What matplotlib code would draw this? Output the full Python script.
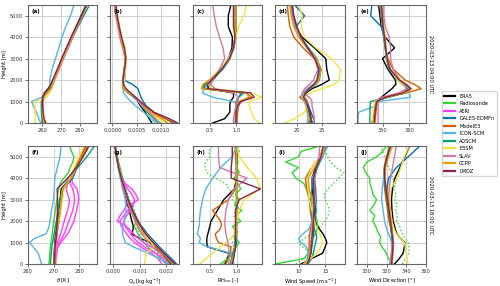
import matplotlib.pyplot as plt
from matplotlib.lines import Line2D
from matplotlib.ticker import FormatStrFormatter

# height levels (m)
Z = [0, 200, 500, 800, 1000, 1200, 1400, 1600, 1800, 2000, 2500, 3000, 3500, 4000, 4500, 5000, 5500]
Z_SONDE = [0, 250, 500, 750, 1000, 1250, 1500, 1750, 2000, 2250, 2500, 2750,
           3000, 3250, 3500, 3750, 4000, 4250, 4500, 4750, 5000, 5250, 5500]
Z_AERI = [0, 250, 500, 750, 1000, 1250, 1500, 1750, 2000, 2250, 2500, 2750,
          3000, 3250, 3500, 3750, 4000]

labels = ['ERA5', 'Radiosonde', 'AERI', 'DALES-EDMFn', 'ModelE3', 'ICON-SCM',
          'AOSCM', 'E3SM', 'SLAV', 'CCPP', 'LMDZ']
colors = ['black', '#33d633', '#ff3cff', '#0072b2', '#d55e00', '#56b4e9',
          '#009e73', '#f0e442', '#cc79a7', '#e69f00', '#882255']
models = ['ERA5', 'DALES-EDMFn', 'ModelE3', 'ICON-SCM', 'AOSCM', 'E3SM', 'SLAV', 'CCPP', 'LMDZ']

# ---- 2020-03-13 04:00 UTC ----
theta_04 = {
    'ERA5':        [260.5, 260.2, 260.0, 259.8, 259.8, 260.5, 262.0, 264.0, 265.0, 266.0, 268.3, 270.6, 273.0, 275.5, 278.0, 280.6, 283.2],
    'DALES-EDMFn': [261.0, 260.5, 260.2, 260.0, 260.0, 260.3, 261.5, 263.5, 264.8, 265.8, 268.2, 270.5, 273.0, 275.5, 278.2, 280.8, 283.5],
    'ModelE3':     [261.5, 260.6, 260.3, 260.1, 260.2, 260.4, 261.0, 263.0, 264.5, 265.6, 268.0, 270.4, 273.0, 275.6, 278.3, 281.0, 283.8],
    'ICON-SCM':    [259.2, 258.2, 257.0, 255.3, 254.4, 259.8, 262.5, 264.6, 264.0, 264.0, 265.2, 267.0, 268.8, 270.5, 272.5, 275.0, 276.8],
    'AOSCM':       [260.0, 259.8, 259.6, 259.5, 259.6, 260.0, 261.8, 264.0, 265.2, 266.2, 268.6, 271.0, 273.6, 276.2, 279.0, 282.0, 285.0],
    'E3SM':        [256.2, 256.2, 256.2, 256.2, 256.3, 262.5, 263.8, 265.0, 265.6, 266.3, 268.5, 270.8, 273.3, 275.8, 278.4, 281.0, 283.6],
    'SLAV':        [261.0, 260.8, 260.6, 260.5, 260.6, 261.0, 262.5, 264.5, 265.6, 266.6, 269.0, 271.3, 273.8, 276.2, 278.6, 281.2, 283.5],
    'CCPP':        [260.8, 260.4, 260.2, 260.0, 260.1, 260.8, 262.8, 264.8, 265.6, 266.3, 268.6, 270.8, 273.2, 275.8, 278.4, 281.0, 283.7],
    'LMDZ':        [262.0, 261.0, 260.5, 260.2, 260.1, 260.3, 261.2, 263.2, 264.5, 265.5, 268.0, 270.3, 272.8, 275.3, 278.0, 280.8, 283.4],
}
# specific humidity in 1e-4 kg/kg
qv_04 = {
    'ERA5':        [8.2, 7.6, 6.8, 5.8, 5.3, 4.6, 3.6, 2.4, 2.3, 2.3, 2.6, 2.8, 2.4, 1.8, 1.3, 0.9, 0.6],
    'DALES-EDMFn': [12.5, 11.0, 8.6, 7.0, 6.4, 5.9, 5.6, 5.3, 4.2, 2.4, 2.5, 2.7, 2.4, 1.8, 1.3, 0.9, 0.6],
    'ModelE3':     [13.0, 11.0, 8.0, 6.5, 5.6, 4.6, 3.4, 2.6, 2.2, 2.1, 2.4, 2.7, 2.3, 1.7, 1.2, 0.8, 0.5],
    'ICON-SCM':    [9.0, 8.0, 6.5, 4.8, 3.8, 3.0, 2.3, 2.2, 2.4, 2.6, 2.7, 2.8, 2.5, 1.9, 1.4, 1.0, 0.7],
    'AOSCM':       [9.5, 8.6, 7.2, 6.0, 5.4, 4.4, 3.2, 2.3, 2.1, 2.2, 2.5, 2.7, 2.3, 1.8, 1.3, 0.9, 0.6],
    'E3SM':        [11.0, 9.6, 7.5, 6.2, 5.6, 4.8, 3.6, 2.6, 2.4, 2.5, 2.7, 2.9, 2.6, 2.0, 1.5, 1.1, 0.8],
    'SLAV':        [10.0, 9.0, 7.6, 6.2, 5.4, 4.6, 3.4, 2.4, 2.2, 2.3, 2.5, 2.6, 2.1, 1.5, 1.1, 0.7, 0.4],
    'CCPP':        [11.5, 10.2, 8.0, 6.6, 5.8, 4.8, 3.4, 2.3, 2.1, 2.2, 2.5, 2.7, 2.3, 1.8, 1.3, 0.9, 0.6],
    'LMDZ':        [13.5, 11.8, 8.6, 6.8, 5.8, 4.8, 3.8, 2.8, 2.3, 2.2, 2.5, 2.8, 2.5, 1.9, 1.4, 1.0, 0.7],
}
rh_04 = {
    'ERA5':        [0.55, 0.78, 0.88, 0.88, 0.89, 0.95, 0.95, 0.45, 0.50, 0.55, 0.72, 0.85, 0.92, 0.93, 0.85, 0.85, 0.90],
    'DALES-EDMFn': [1.00, 1.00, 1.00, 1.00, 1.02, 1.05, 1.10, 0.40, 0.42, 0.52, 0.74, 0.88, 0.95, 0.98, 1.00, 1.00, 1.00],
    'ModelE3':     [1.02, 1.02, 1.03, 1.05, 1.10, 1.30, 1.20, 0.35, 0.38, 0.50, 0.72, 0.86, 0.95, 0.98, 0.98, 0.98, 0.98],
    'ICON-SCM':    [0.98, 0.98, 1.00, 1.05, 0.95, 0.55, 0.35, 0.38, 0.45, 0.50, 0.70, 0.85, 0.95, 1.00, 1.00, 1.00, 1.00],
    'AOSCM':       [1.00, 1.00, 1.00, 1.00, 1.00, 1.05, 1.15, 0.38, 0.40, 0.52, 0.74, 0.88, 0.96, 1.00, 1.00, 1.00, 1.00],
    'E3SM':        [1.45, 1.35, 1.30, 1.25, 1.25, 1.50, 1.30, 0.55, 0.45, 0.50, 0.68, 0.85, 0.95, 1.00, 1.05, 1.15, 1.20],
    'SLAV':        [0.95, 0.95, 0.97, 1.00, 1.00, 1.05, 0.95, 0.60, 0.50, 0.55, 0.68, 0.78, 0.75, 0.68, 0.62, 0.58, 0.55],
    'CCPP':        [1.00, 1.00, 1.00, 1.02, 1.05, 1.25, 1.20, 0.33, 0.36, 0.48, 0.72, 0.88, 0.95, 0.98, 1.00, 1.00, 1.00],
    'LMDZ':        [1.00, 1.00, 1.00, 1.03, 1.08, 1.35, 1.28, 0.45, 0.45, 0.52, 0.72, 0.87, 0.95, 0.98, 0.95, 0.95, 0.95],
}
ws_04 = {
    'ERA5':        [22.5, 22.8, 22.6, 22.2, 22.0, 21.5, 21.8, 23.0, 25.0, 26.5, 26.0, 25.8, 23.5, 21.0, 19.7, 19.0, 18.8],
    'DALES-EDMFn': [23.5, 23.3, 22.8, 22.3, 22.0, 21.6, 21.8, 22.5, 23.5, 24.2, 24.6, 23.8, 22.2, 20.7, 19.8, 21.5, 19.5],
    'ModelE3':     [22.8, 22.6, 22.3, 21.8, 21.5, 20.5, 21.5, 22.5, 23.5, 24.3, 24.8, 23.5, 21.2, 19.3, 18.5, 18.2, 18.0],
    'ICON-SCM':    [22.0, 22.2, 22.0, 21.8, 21.5, 21.0, 21.0, 22.0, 23.2, 24.0, 24.5, 23.7, 22.0, 20.6, 19.8, 19.2, 19.0],
    'AOSCM':       [22.7, 22.6, 22.3, 22.0, 21.8, 21.4, 21.6, 22.6, 23.8, 24.5, 24.8, 24.0, 22.3, 20.8, 19.9, 19.3, 19.0],
    'E3SM':        [17.5, 19.5, 21.5, 22.0, 22.0, 21.5, 22.5, 25.0, 27.5, 28.5, 28.8, 27.0, 23.8, 21.5, 20.8, 21.0, 20.3],
    'SLAV':        [23.0, 23.5, 23.3, 23.0, 23.0, 22.5, 21.0, 21.5, 22.5, 23.3, 24.2, 23.5, 22.0, 20.5, 19.5, 19.0, 18.7],
    'CCPP':        [22.3, 22.4, 22.2, 21.9, 21.7, 21.2, 21.5, 22.5, 23.6, 24.4, 24.9, 23.9, 22.0, 20.3, 19.3, 18.8, 18.5],
    'LMDZ':        [23.0, 22.8, 22.5, 22.1, 21.9, 21.3, 21.6, 22.4, 23.4, 24.0, 24.4, 23.6, 22.1, 20.8, 19.9, 19.3, 19.0],
}
wd_04 = {
    'ERA5':        [346.0, 346.5, 347.0, 347.3, 347.5, 349.5, 351.5, 353.5, 355.0, 354.8, 352.0, 350.0, 354.5, 351.0, 349.5, 349.0, 348.5],
    'DALES-EDMFn': [346.5, 346.8, 347.0, 347.2, 347.5, 352.0, 358.0, 359.5, 357.5, 355.5, 352.5, 351.5, 351.0, 350.5, 349.5, 345.5, 346.0],
    'ModelE3':     [347.0, 347.2, 347.5, 347.8, 348.0, 350.5, 359.0, 364.5, 362.0, 358.5, 354.0, 352.0, 351.0, 350.5, 350.0, 349.5, 349.3],
    'ICON-SCM':    [340.8, 340.8, 341.0, 347.5, 348.5, 360.5, 360.0, 359.0, 357.5, 356.0, 352.5, 351.5, 351.0, 350.5, 350.0, 349.5, 349.3],
    'AOSCM':       [345.2, 345.2, 345.3, 345.3, 345.5, 352.0, 358.5, 360.5, 358.5, 356.0, 352.5, 351.5, 351.0, 350.5, 350.0, 349.5, 349.5],
    'E3SM':        [346.0, 346.2, 346.5, 346.8, 347.0, 351.0, 357.0, 359.0, 357.5, 355.5, 353.0, 351.5, 351.5, 351.0, 350.5, 350.0, 350.0],
    'SLAV':        [348.3, 348.3, 348.3, 348.3, 348.5, 349.5, 356.0, 359.0, 358.0, 356.5, 354.0, 353.0, 353.0, 352.5, 351.0, 350.5, 350.5],
    'CCPP':        [346.5, 346.7, 347.0, 347.3, 347.5, 351.5, 358.5, 361.0, 359.0, 356.5, 353.0, 351.8, 351.2, 350.8, 350.3, 349.8, 349.5],
    'LMDZ':        [347.0, 347.0, 347.2, 347.5, 347.8, 351.0, 357.5, 360.5, 358.8, 356.3, 352.8, 351.7, 351.2, 350.7, 350.2, 349.9, 349.6],
}

# ---- 2020-03-13 18:00 UTC ----
theta_18 = {
    'ERA5':        [270.0, 270.1, 270.2, 270.4, 270.5, 270.7, 270.9, 271.1, 271.4, 271.7, 272.2, 272.6, 273.0, 276.5, 278.6, 280.8, 283.0],
    'DALES-EDMFn': [270.5, 270.5, 270.6, 270.8, 270.9, 271.1, 271.3, 271.5, 271.8, 272.0, 272.5, 273.0, 273.5, 277.5, 279.2, 281.2, 283.5],
    'ModelE3':     [270.3, 270.3, 270.4, 270.6, 270.8, 271.0, 271.2, 271.5, 271.8, 272.1, 272.7, 273.2, 274.0, 276.5, 278.5, 280.5, 282.5],
    'ICON-SCM':    [265.3, 264.8, 264.0, 262.0, 260.5, 262.7, 267.0, 267.8, 268.3, 268.6, 269.2, 270.0, 270.3, 270.5, 271.5, 272.5, 273.0],
    'AOSCM':       [268.8, 268.9, 269.1, 269.3, 269.6, 269.9, 270.2, 270.5, 270.8, 271.1, 271.8, 272.4, 273.5, 276.0, 279.5, 283.0, 286.0],
    'E3SM':        [271.0, 270.9, 270.8, 270.9, 271.0, 271.2, 271.4, 271.6, 271.9, 272.2, 272.8, 273.4, 274.2, 276.2, 278.0, 280.0, 282.0],
    'SLAV':        [270.6, 270.6, 270.7, 270.8, 271.0, 271.2, 271.4, 271.6, 271.8, 272.0, 272.5, 273.0, 273.5, 276.8, 279.0, 281.5, 284.0],
    'CCPP':        [270.2, 270.2, 270.3, 270.5, 270.7, 270.9, 271.1, 271.4, 271.7, 272.0, 272.6, 273.1, 273.6, 276.8, 278.8, 281.0, 283.2],
    'LMDZ':        [270.4, 270.4, 270.5, 270.6, 270.8, 271.0, 271.1, 271.2, 271.3, 271.4, 271.5, 271.6, 271.4, 275.5, 279.0, 281.5, 283.8],
}
theta_18_sonde = [268.2, 268.4, 268.5, 268.7, 269.0, 269.3, 269.6, 269.8, 270.1, 270.4, 270.7, 271.0,
                  271.3, 271.6, 272.0, 272.5, 274.0, 275.8, 276.5, 277.5, 278.0, 277.0, 276.3]
theta_18_aeri = [
    [270.6, 270.7, 270.8, 271.0, 271.5, 272.3, 273.0, 273.6, 274.2, 274.8, 275.5, 276.0, 276.2, 275.5, 275.0, 275.5, 276.5],
    [270.8, 270.9, 271.0, 271.3, 272.2, 273.5, 274.5, 275.2, 276.0, 276.8, 277.5, 278.0, 278.2, 278.0, 277.5, 276.5, 276.8],
    [271.0, 271.1, 271.3, 271.6, 272.8, 274.5, 276.0, 277.0, 278.0, 278.5, 279.0, 279.5, 279.8, 279.6, 279.2, 277.5, 277.0],
]
qv_18 = {
    'ERA5':        [22.0, 20.5, 18.5, 16.0, 14.0, 10.0, 7.0, 7.5, 7.5, 7.0, 6.0, 5.0, 4.0, 2.8, 1.9, 1.2, 0.7],
    'DALES-EDMFn': [24.0, 22.5, 20.0, 17.5, 16.0, 14.5, 13.0, 11.8, 10.5, 9.5, 7.5, 5.8, 4.4, 3.2, 2.2, 1.4, 0.8],
    'ModelE3':     [23.0, 21.0, 18.5, 16.0, 14.5, 13.0, 11.5, 10.5, 9.5, 8.5, 6.8, 5.4, 4.2, 3.0, 2.0, 1.3, 0.7],
    'ICON-SCM':    [21.0, 18.0, 13.5, 7.5, 4.5, 4.0, 3.5, 3.4, 3.6, 4.0, 4.8, 4.5, 3.6, 2.6, 1.8, 1.1, 0.6],
    'AOSCM':       [22.5, 21.0, 19.0, 16.5, 15.0, 13.5, 12.0, 11.0, 10.0, 9.0, 7.0, 5.5, 4.2, 3.0, 2.0, 1.3, 0.7],
    'E3SM':        [12.0, 12.0, 12.5, 15.5, 14.5, 13.0, 11.8, 10.8, 9.8, 9.0, 7.0, 5.6, 4.3, 3.1, 2.1, 1.3, 0.7],
    'SLAV':        [21.5, 20.0, 17.5, 15.0, 13.5, 12.0, 10.8, 9.8, 9.0, 8.2, 6.5, 5.2, 4.0, 2.9, 2.0, 1.3, 0.7],
    'CCPP':        [22.8, 21.3, 19.0, 16.5, 15.0, 13.5, 12.2, 11.0, 10.0, 9.0, 7.0, 5.5, 4.3, 3.1, 2.1, 1.3, 0.7],
    'LMDZ':        [23.5, 21.8, 19.2, 16.8, 15.2, 13.7, 12.3, 11.2, 10.2, 9.2, 7.2, 5.6, 4.3, 3.0, 2.0, 1.2, 0.6],
}
qv_18_sonde = [20.0, 18.0, 16.0, 13.5, 11.5, 10.0, 9.0, 8.0, 8.5, 7.5, 7.0, 6.5,
               5.5, 5.0, 4.5, 4.0, 3.5, 3.0, 2.5, 2.0, 1.5, 1.1, 0.8]
qv_18_sonde_dot = [21.0, 19.5, 17.0, 15.0, 12.5, 10.5, 9.5, 8.8, 9.0, 8.5, 8.0, 7.5,
                   6.0, 5.5, 4.8, 4.0, 3.5, 3.0, 2.4, 1.9, 1.4, 1.0, 0.7]
qv_18_aeri = [
    [24.0, 21.5, 18.5, 15.0, 11.5, 9.0, 7.0, 5.0, 1.5, 2.5, 4.0, 5.0, 5.5, 4.5, 3.5, 3.2, 3.0],
    [21.0, 19.0, 16.0, 12.5, 9.5, 7.5, 6.0, 4.5, 4.0, 5.0, 6.5, 7.5, 8.0, 7.0, 5.5, 4.0, 3.2],
    [18.5, 17.0, 14.5, 11.0, 8.0, 6.0, 4.5, 3.0, 2.5, 4.0, 5.5, 6.5, 9.5, 8.5, 7.0, 4.5, 3.3],
]
rh_18 = {
    'ERA5':        [0.78, 0.82, 0.86, 0.45, 0.44, 0.44, 0.46, 0.48, 0.50, 0.52, 0.64, 0.76, 0.96, 1.00, 1.00, 1.00, 1.00],
    'DALES-EDMFn': [0.92, 0.94, 0.96, 0.98, 1.00, 1.00, 1.00, 1.00, 1.00, 1.00, 1.00, 1.00, 1.00, 1.00, 1.00, 1.01, 1.02],
    'ModelE3':     [0.80, 0.84, 0.88, 0.90, 0.66, 0.62, 0.60, 0.68, 0.72, 0.70, 0.55, 0.85, 0.98, 1.00, 1.00, 0.98, 0.98],
    'ICON-SCM':    [0.95, 0.93, 0.90, 0.45, 0.30, 0.32, 0.26, 0.28, 0.30, 0.30, 0.32, 0.36, 0.42, 0.55, 0.70, 0.92, 1.00],
    'AOSCM':       [0.88, 0.90, 0.93, 0.96, 0.97, 0.98, 0.99, 0.99, 1.00, 1.00, 1.00, 1.00, 1.00, 1.00, 1.00, 1.00, 1.00],
    'E3SM':        [0.30, 0.40, 0.55, 0.70, 0.80, 0.90, 0.95, 0.97, 0.98, 1.00, 1.05, 1.15, 1.45, 1.38, 1.20, 1.05, 1.00],
    'SLAV':        [0.85, 0.86, 0.86, 0.85, 0.84, 0.82, 0.80, 0.79, 0.78, 0.78, 0.80, 0.85, 0.95, 1.20, 0.68, 0.66, 0.66],
    'CCPP':        [0.90, 0.92, 0.95, 0.97, 0.98, 0.99, 1.00, 1.00, 1.00, 1.00, 1.00, 1.00, 1.00, 1.00, 1.00, 1.00, 1.00],
    'LMDZ':        [0.92, 0.94, 0.96, 0.98, 0.98, 0.98, 0.98, 0.98, 0.98, 0.98, 0.98, 1.05, 1.45, 0.90, 0.90, 0.92, 0.92],
}
rh_18_sonde = [0.70, 0.85, 0.92, 0.98, 1.05, 0.95, 1.02, 0.92, 1.08, 0.98, 1.10, 0.96,
               1.05, 0.98, 1.08, 1.02, 0.95, 1.05, 1.00, 1.03, 0.98, 1.05, 0.95]
rh_18_sonde_dot = [0.72, 0.80, 0.90, 0.95, 0.92, 1.00, 0.95, 0.98, 1.02, 0.95, 0.98, 1.00,
                   0.92, 0.95, 0.85, 0.80, 0.60, 0.45, 0.40, 0.42, 0.50, 0.48, 0.55]
ws_18 = {
    'ERA5':        [10.5, 12.0, 14.5, 15.0, 15.3, 15.0, 14.6, 14.0, 13.5, 13.1, 13.0, 12.8, 12.6, 12.5, 13.2, 14.0, 15.0],
    'DALES-EDMFn': [11.5, 12.0, 12.3, 12.5, 12.6, 12.7, 12.8, 12.8, 12.9, 13.0, 13.2, 13.3, 13.2, 13.0, 13.5, 14.5, 15.2],
    'ModelE3':     [11.0, 11.8, 12.0, 12.0, 12.0, 12.0, 12.1, 12.2, 12.3, 12.5, 12.2, 12.0, 11.5, 11.3, 12.5, 14.0, 14.8],
    'ICON-SCM':    [11.0, 11.6, 11.8, 11.5, 10.5, 10.0, 10.8, 11.8, 12.3, 12.5, 12.8, 13.0, 12.8, 12.5, 13.5, 14.5, 15.5],
    'AOSCM':       [11.8, 12.3, 12.8, 13.0, 13.2, 13.4, 13.3, 13.0, 12.8, 12.6, 12.4, 12.3, 12.5, 12.8, 13.5, 14.3, 14.8],
    'E3SM':        [11.0, 12.0, 13.5, 14.2, 14.5, 14.3, 14.0, 13.6, 13.2, 13.0, 12.5, 12.0, 11.8, 11.7, 12.5, 14.0, 15.0],
    'SLAV':        [11.5, 11.8, 12.0, 12.2, 12.3, 12.4, 12.5, 12.5, 12.5, 12.6, 12.8, 13.0, 13.0, 13.0, 13.3, 13.8, 14.0],
    'CCPP':        [11.2, 11.8, 12.1, 12.3, 12.4, 12.5, 12.6, 12.6, 12.7, 12.8, 12.8, 12.6, 12.0, 11.8, 13.0, 14.3, 15.0],
    'LMDZ':        [11.6, 12.0, 12.3, 12.4, 12.5, 12.5, 12.6, 12.7, 12.7, 12.8, 12.9, 12.9, 12.8, 12.8, 13.3, 14.2, 14.6],
}
ws_18_sonde = [5.6, 11.0, 11.8, 12.0, 12.3, 12.8, 13.3, 13.5, 13.5, 13.2, 13.4, 13.0,
               12.6, 12.3, 11.5, 11.0, 9.5, 8.8, 10.0, 7.6, 10.0, 10.5, 14.0]
ws_18_sonde_dot = [9.5, 11.0, 12.5, 11.0, 10.0, 11.5, 13.0, 14.0, 15.0, 15.5, 15.8, 15.5,
                   15.0, 14.8, 15.5, 16.5, 17.5, 18.5, 17.0, 16.0, 15.5, 15.0, 14.5]
wd_18 = {
    'ERA5':        [328.0, 332.0, 336.8, 338.0, 338.5, 334.0, 330.5, 329.0, 328.0, 326.7, 325.5, 325.0, 326.0, 328.4, 333.5, 338.5, 343.5],
    'DALES-EDMFn': [325.0, 325.5, 326.0, 326.5, 327.0, 326.5, 326.0, 325.5, 325.0, 324.5, 323.0, 321.5, 320.5, 322.0, 330.0, 342.0, 353.6],
    'ModelE3':     [324.0, 324.5, 325.0, 325.5, 326.0, 325.5, 325.0, 324.5, 323.5, 322.5, 321.0, 319.5, 318.0, 317.0, 317.5, 320.0, 323.0],
    'ICON-SCM':    [323.0, 324.0, 325.0, 325.5, 325.0, 324.0, 322.0, 320.5, 319.0, 318.0, 316.5, 315.0, 315.5, 317.0, 318.5, 321.0, 324.0],
    'AOSCM':       [324.5, 325.0, 325.5, 326.0, 326.0, 325.5, 325.0, 324.5, 324.0, 323.5, 322.0, 320.5, 319.0, 318.0, 318.5, 320.5, 323.5],
    'E3SM':        [341.8, 341.0, 340.0, 339.0, 338.0, 334.0, 330.0, 328.0, 326.5, 325.5, 324.0, 323.0, 324.0, 331.0, 334.5, 338.0, 343.0],
    'SLAV':        [324.0, 324.5, 325.0, 325.5, 326.0, 326.0, 325.5, 325.0, 324.5, 324.0, 323.0, 322.0, 322.5, 324.0, 326.0, 328.0, 330.0],
    'CCPP':        [325.5, 326.0, 326.5, 327.0, 327.0, 326.5, 326.0, 325.5, 325.0, 324.5, 323.5, 322.0, 320.0, 318.5, 319.0, 322.0, 326.0],
    'LMDZ':        [325.0, 325.5, 326.0, 326.5, 326.5, 326.0, 325.5, 325.0, 324.5, 324.0, 322.5, 321.0, 319.5, 318.0, 318.0, 320.5, 324.0],
}
wd_18_sonde = [326.7, 322.0, 320.0, 316.0, 313.0, 314.0, 311.0, 309.0, 306.0, 308.0, 303.0, 307.0,
               309.9, 306.0, 305.0, 303.0, 303.0, 299.0, 296.4, 300.0, 310.0, 316.0, 320.0]
wd_18_sonde_dot = [336.0, 339.0, 342.5, 343.0, 342.0, 338.0, 335.0, 333.0, 330.0, 331.0, 329.0, 331.0,
                   328.0, 330.0, 327.0, 329.0, 326.0, 325.0, 322.0, 320.0, 318.0, 316.0, 315.0]

col = dict(zip(labels, colors))
FS = 3.7

fig = plt.figure(figsize=(5.0, 2.86), dpi=100)
lefts = [28, 110, 193, 275, 357]
rights = [97, 179, 262, 345, 426]
rows = [(5, 123), (146, 264)]

# (data, sonde, sonde dotted, aeri, scale, xlim, xticks, fmt, xlabel)
panels = [
    [(theta_04, None, None, None, 1, (252.5, 289), [260, 270, 280], '%d', None),
     (qv_04, None, None, None, 1e-4, (-0.00005, 0.00138), [0, 0.0005, 0.001], '%.4f', None),
     (rh_04, None, None, None, 1, (0.17, 1.5), [0.5, 1.0], '%.1f', None),
     (ws_04, None, None, None, 1, (15.5, 29.7), [20, 25], '%d', None),
     (wd_04, None, None, None, 1, (340.4, 366.3), [350, 360], '%d', None)],
    [(theta_18, theta_18_sonde, None, theta_18_aeri, 1, (260, 287), [260, 270, 280], '%d', r'$\theta$ [K]'),
     (qv_18, qv_18_sonde, qv_18_sonde_dot, qv_18_aeri, 1e-4, (-0.00013, 0.0025), [0, 0.001, 0.002], '%.3f',
      r'Q$_v$ [kg kg$^{-1}$]'),
     (rh_18, rh_18_sonde, rh_18_sonde_dot, None, 1, (0.18, 1.48), [0.5, 1.0], '%.1f', r'RH$_{ice}$ [-]'),
     (ws_18, ws_18_sonde, ws_18_sonde_dot, None, 1, (5.6, 18.7), [10, 15], '%d', r'Wind Speed [m s$^{-1}$]'),
     (wd_18, wd_18_sonde, wd_18_sonde_dot, None, 1, (290, 360), [300, 320, 340, 360], '%d', r'Wind Direction [$\degree$]')],
]
letters = ['abcde', 'fghij']
times = ['2020-03-13 04:00 UTC', '2020-03-13 18:00 UTC']

lw = 1.0
for r, (top, bot) in enumerate(rows):
    for c in range(5):
        data, sonde, sonde_dot, aeri, sc, xlim, xt, fmt, xlab = panels[r][c]
        ax = fig.add_axes([lefts[c] / 500, 1 - bot / 286, (rights[c] - lefts[c]) / 500, (bot - top) / 286])
        # ERA5 first, then observations, then models
        ax.plot([v * sc for v in data['ERA5']], Z, color=col['ERA5'], lw=lw)
        if sonde is not None:
            ax.plot([v * sc for v in sonde], Z_SONDE, color=col['Radiosonde'], lw=lw)
        if sonde_dot is not None:
            ax.plot([v * sc for v in sonde_dot], Z_SONDE, color=col['Radiosonde'], lw=lw, ls=':')
        if aeri is not None:
            for prof in aeri:
                ax.plot([v * sc for v in prof], Z_AERI, color=col['AERI'], lw=lw)
        for m in models[1:]:
            ax.plot([v * sc for v in data[m]], Z, color=col[m], lw=lw)

        ax.set_xlim(*xlim)
        ax.set_ylim(0, 5500)
        ax.set_xticks(xt)
        ax.set_yticks([0, 1000, 2000, 3000, 4000, 5000])
        ax.xaxis.set_major_formatter(FormatStrFormatter(fmt))
        ax.grid(True, color='#d0d0d0', lw=0.7)
        ax.set_axisbelow(True)
        ax.tick_params(labelsize=FS, length=2, width=0.5, pad=1.5, colors='#333333')
        for s in ax.spines.values():
            s.set_color('#666666')
            s.set_linewidth(0.8)
        if c == 0:
            ax.set_ylabel('Height [m]', fontsize=FS, labelpad=2)
        else:
            ax.set_yticklabels([])
        if xlab:
            ax.set_xlabel(xlab, fontsize=FS, labelpad=2)
        ax.text(0.05, 0.965, '(%s)' % letters[r][c], transform=ax.transAxes, fontsize=FS + 0.3,
                fontweight='bold', va='top', ha='left')
        if c == 4:
            ax.text(1.07, 0.5, times[r], transform=ax.transAxes, rotation=270, fontsize=FS,
                    va='center', ha='center')

handles = [Line2D([], [], color=col[l], lw=1.6) for l in labels]
fig.legend(handles, labels, loc='upper left', bbox_to_anchor=(0.878, 0.69), fontsize=FS - 0.1,
           frameon=True, labelspacing=0.5, handlelength=2.2, handletextpad=0.8,
           borderpad=0.5, fancybox=False, edgecolor='#cccccc')

fig.savefig('out.png', dpi=100)
